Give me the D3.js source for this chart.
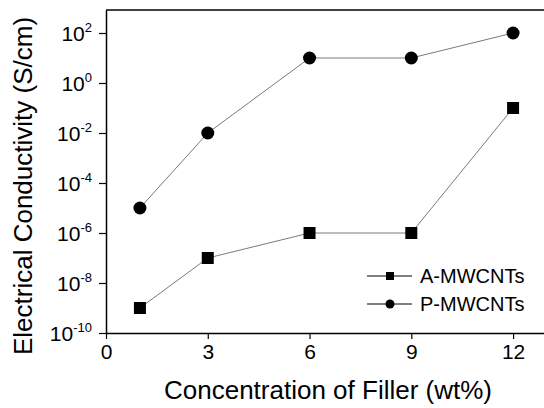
<!DOCTYPE html>
<html>
<head>
<meta charset="utf-8">
<script src="https://cdn.jsdelivr.net/npm/d3@7"></script>
<style>
  body { margin: 0; background: #fff; }
  svg { display: block; font-family: Arial, "Liberation Sans", sans-serif; }
</style>
</head>
<body>
<svg id="chart" width="544" height="408"></svg>
<script>
// data
var concentration = [1, 3, 6, 9, 12];
var aMWCNTs = [1e-9, 1e-7, 1e-6, 1e-6, 1e-1];
var pMWCNTs = [1e-5, 1e-2, 10, 10, 100];
var seriesNames = ["A-MWCNTs", "P-MWCNTs"];
var xTicks = [0, 3, 6, 9, 12];
var yExponents = [-10, -8, -6, -4, -2, 0, 2];

function draw_chart()
{
    var svg = d3.select("svg#chart");

    // plot frame
    var left = 106, right = 547, top = 10, bottom = 333;

    var x = d3.scaleLinear()
        .domain([0, 13])
        .range([left, right]);
    var y = d3.scaleLog()
        .domain([1e-10, Math.pow(10, 2.92)])
        .range([bottom, top]);

    // top border
    svg.append("line")
        .attr("x1", left).attr("x2", 544)
        .attr("y1", top).attr("y2", top)
        .attr("stroke", "#000").attr("stroke-width", 1.5);

    // X axis
    var xAxis = svg.append("g")
        .attr("transform", "translate(0," + bottom + ")")
        .call(d3.axisBottom(x).tickValues(xTicks).tickSize(6).tickSizeOuter(0).tickPadding(5));
    xAxis.select(".domain").attr("stroke-width", 1.5);
    xAxis.selectAll(".tick line").attr("stroke-width", 1.2);
    xAxis.selectAll("text")
        .attr("font-size", "21px")
        .attr("font-family", "Arial, 'Liberation Sans', sans-serif")
        .attr("fill", "#000");

    // Y axis
    var yAxis = svg.append("g")
        .attr("transform", "translate(" + left + ",0)")
        .call(d3.axisLeft(y)
            .tickValues(yExponents.map(function (e) { return Math.pow(10, e); }))
            .tickSize(7).tickSizeOuter(0).tickFormat(""));
    yAxis.select(".domain").attr("stroke-width", 1.5);
    yAxis.selectAll(".tick line").attr("stroke-width", 1.2);

    // power-of-ten labels
    var labels = svg.append("g");
    yExponents.forEach(function (e) {
        var t = labels.append("text")
            .attr("x", 92)
            .attr("y", y(Math.pow(10, e)) + 8)
            .attr("text-anchor", "end")
            .attr("font-size", "21px")
            .attr("fill", "#000");
        t.append("tspan").text("10");
        t.append("tspan")
            .attr("dy", -9)
            .attr("font-size", "13px")
            .text(e);
    });

    // axis titles
    svg.append("text")
        .attr("x", 328)
        .attr("y", 399)
        .attr("text-anchor", "middle")
        .attr("font-size", "26px")
        .text("Concentration of Filler (wt%)");
    svg.append("text")
        .attr("transform", "translate(32,186)rotate(-90)")
        .attr("text-anchor", "middle")
        .attr("font-size", "26px")
        .text("Electrical Conductivity (S/cm)");

    // lines
    var line = d3.line()
        .x(function (d, i) { return x(concentration[i]); })
        .y(function (d) { return y(d); });

    [aMWCNTs, pMWCNTs].forEach(function (vals) {
        svg.append("path")
            .datum(vals)
            .attr("d", line)
            .attr("fill", "none")
            .attr("stroke", "#7a7a7a")
            .attr("stroke-width", 1);
    });

    // markers
    svg.append("g").selectAll("rect")
        .data(aMWCNTs)
        .enter()
        .append("rect")
        .attr("x", function (d, i) { return x(concentration[i]) - 6; })
        .attr("y", function (d) { return y(d) - 6; })
        .attr("width", 12)
        .attr("height", 12)
        .attr("fill", "#000");
    svg.append("g").selectAll("circle")
        .data(pMWCNTs)
        .enter()
        .append("circle")
        .attr("cx", function (d, i) { return x(concentration[i]); })
        .attr("cy", function (d) { return y(d); })
        .attr("r", 6.5)
        .attr("fill", "#000");

    // legend
    var legend = svg.append("g");
    seriesNames.forEach(function (name, i) {
        var ly = 276 + i * 28;
        legend.append("line")
            .attr("x1", 367).attr("x2", 412)
            .attr("y1", ly).attr("y2", ly)
            .attr("stroke", "#000").attr("stroke-width", 1);
        if (i === 0) {
            legend.append("rect")
                .attr("x", 386).attr("y", ly - 4)
                .attr("width", 8).attr("height", 8)
                .attr("fill", "#000");
        } else {
            legend.append("circle")
                .attr("cx", 390).attr("cy", ly)
                .attr("r", 4.5)
                .attr("fill", "#000");
        }
        legend.append("text")
            .attr("x", 420)
            .attr("y", ly + 7)
            .attr("font-size", "20px")
            .text(name);
    });
}

draw_chart();
</script>
</body>
</html>
